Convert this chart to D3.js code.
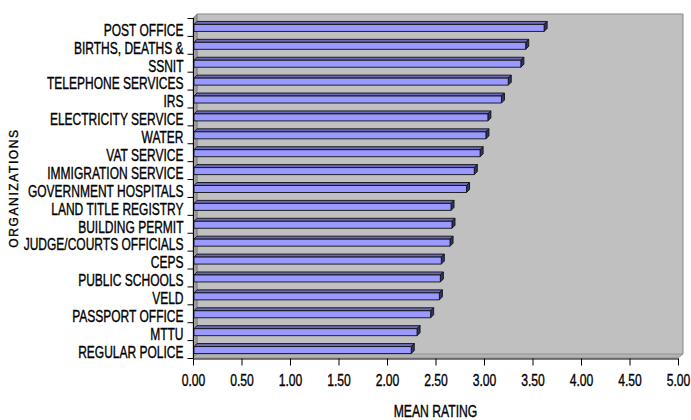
<!DOCTYPE html>
<html><head><meta charset="utf-8">
<script src="https://cdn.jsdelivr.net/npm/d3@7"></script>
<style>
body{margin:0;background:#fff;}
svg text{font-family:"Liberation Sans",Arial,sans-serif;}
</style></head>
<body><svg id="c" width="691" height="420"></svg>
<script>
const categories = ["POST OFFICE","BIRTHS, DEATHS &","SSNIT","TELEPHONE SERVICES","IRS","ELECTRICITY SERVICE","WATER","VAT SERVICE","IMMIGRATION SERVICE","GOVERNMENT HOSPITALS","LAND TITLE REGISTRY","BUILDING PERMIT","JUDGE/COURTS OFFICIALS","CEPS","PUBLIC SCHOOLS","VELD","PASSPORT OFFICE","MTTU","REGULAR POLICE"];
const meanRating = [3.62,3.43,3.38,3.25,3.18,3.04,3.02,2.96,2.90,2.82,2.66,2.67,2.65,2.56,2.55,2.54,2.45,2.31,2.25];
const xTicks = [0,0.5,1,1.5,2,2.5,3,3.5,4,4.5,5];
const xTitle = "MEAN RATING";
const yTitle = "ORGANIZATIONS";

const svg = d3.select("#c");
const L = 193, R = 678, T = 18, B = 358, D = 4;
const x = d3.scaleLinear().domain([0,5]).range([L,R]);
const y = d3.scaleBand().domain(categories).range([T,B]);

function narrow(sel, f){
  sel.each(function(){
    const w = this.getComputedTextLength();
    d3.select(this).attr("textLength", w*f).attr("lengthAdjust","spacingAndGlyphs");
  });
}

// walls
svg.append("rect").attr("x",L+D).attr("y",T-D).attr("width",R-L+1).attr("height",B-T)
  .attr("fill","#c0c0c0");
svg.append("path").attr("d",`M${L+D},${B-D}V${T-D}H${R+D+1}V${B-D}`).attr("fill","none").attr("stroke","#888").attr("stroke-width",1);
svg.append("path").attr("d",`M${L},${T}L${L+D},${T-D}L${L+D},${B-D}L${L},${B}Z`).attr("fill","#9c9c9c").attr("stroke","#777").attr("stroke-width",0.6);
svg.append("path").attr("d",`M${L},${B}L${L+D},${B-D}L${R+D+1},${B-D}L${R},${B}Z`).attr("fill","#b4b4b4").attr("stroke","#888").attr("stroke-width",0.8);

// bars
const d = 3, h = 7;
const g = svg.append("g");
categories.forEach((c,i)=>{
  const cy = y(c) + y.bandwidth()/2;
  const y0 = cy - 2.5, x0 = x(0) + 1, x1 = x(meanRating[i]);
  const bg = g.append("g").attr("stroke","#111").attr("stroke-width",0.9).attr("stroke-linejoin","round");
  bg.append("path").attr("d",`M${x0},${y0}L${x0+d},${y0-d}L${x1+d},${y0-d}L${x1},${y0}Z`).attr("fill","#6a6ab8");
  bg.append("path").attr("d",`M${x1},${y0}L${x1+d},${y0-d}L${x1+d},${y0-d+h}L${x1},${y0+h}Z`).attr("fill","#333366");
  bg.append("rect").attr("x",x0).attr("y",y0).attr("width",x1-x0).attr("height",h).attr("fill","#9999ff");
});

const dark = s => s.attr("stroke","#000").attr("stroke-width",0.35).attr("fill","#000");

// x axis
const xa = svg.append("g").attr("transform",`translate(0,${B+0.5})`)
  .call(d3.axisBottom(x).tickValues(xTicks).tickFormat(d3.format(".2f")).tickSize(7).tickSizeOuter(0).tickPadding(9));
xa.select(".domain").attr("stroke","#000");
xa.selectAll(".tick line").attr("stroke","#000");
xa.selectAll("text").attr("font-size",16).style("font-family","'Liberation Sans',Arial,sans-serif").call(dark).call(narrow,0.76);

// y axis
const ya = svg.append("g").attr("transform",`translate(${L+0.5},0)`)
  .call(d3.axisLeft(y).tickSize(0).tickPadding(10));
ya.select(".domain").attr("stroke","#000").attr("d",`M0,${T}V${B}`);
ya.selectAll("text").attr("font-size",16).attr("dy","0.55em").attr("dx","0")
  .style("font-family","'Liberation Sans',Arial,sans-serif").call(dark).call(narrow,0.75);
const bounds = categories.map(c=>y(c)).concat([B]);
ya.selectAll(".btick").data(bounds).join("line").attr("class","btick")
  .attr("x1",-6).attr("x2",0).attr("y1",v=>v+0.5).attr("y2",v=>v+0.5).attr("stroke","#000");

svg.append("text").attr("x",(L+R)/2).attr("y",417).attr("text-anchor","middle")
  .attr("font-size",16).text(xTitle).call(dark).call(narrow,0.76);
svg.append("text").attr("transform","translate(18,188) rotate(-90)").attr("text-anchor","middle")
  .attr("font-size",12).attr("letter-spacing",1.6).text(yTitle).call(dark);
</script></body></html>
